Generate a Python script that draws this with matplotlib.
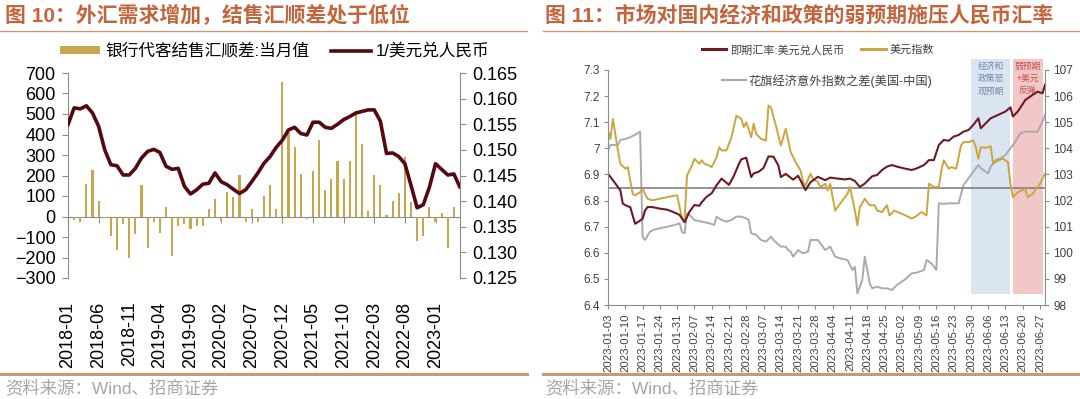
import matplotlib
matplotlib.use('Agg')
import matplotlib.pyplot as plt
import matplotlib.transforms as mtransforms
from matplotlib.patches import Patch, Rectangle
from matplotlib.lines import Line2D
import numpy as np
import pandas as pd

plt.rcParams['font.family'] = ['Liberation Sans', 'Noto Sans CJK SC', 'DejaVu Sans']

# ---------------- left panel data (monthly 2018-01 .. 2023-05) ----------------
months = pd.period_range('2018-01', '2023-05', freq='M').strftime('%Y-%m').tolist()
fx_balance = [0, -15, -28, 160, 227, 77, -5, -94, -161, -36,
              -200, -83, 155, -153, -25, -80, 47, -192, -44, -36,
              -60, -44, -48, 37, 84, -20, 120, 97, 203, -28,
              35, -25, 100, 155, 37, 655, 409, 339, 206, -10,
              222, 373, 131, 183, 269, 183, 273, 516, 352, 27,
              202, 152, 5, 77, 116, 288, 69, -119, -95, 47,
              -25, 16, -156, 47, np.nan]
inv_usdcny = [0.1549, 0.1582, 0.1580, 0.1586, 0.1572, 0.1546, 0.1500, 0.1471, 0.1469, 0.1451,
              0.1451, 0.1464, 0.1484, 0.1497, 0.1501, 0.1495, 0.1468, 0.1462, 0.1464, 0.1429,
              0.1414, 0.1422, 0.1433, 0.1435, 0.1455, 0.1438, 0.1432, 0.1423, 0.1415, 0.1422,
              0.1438, 0.1455, 0.1474, 0.1487, 0.1505, 0.1519, 0.1539, 0.1544, 0.1532, 0.1529,
              0.1554, 0.1554, 0.1544, 0.1542, 0.1550, 0.1559, 0.1565, 0.1572, 0.1575, 0.1578,
              0.1578, 0.1556, 0.1493, 0.1494, 0.1487, 0.1473, 0.1431, 0.1387, 0.1393, 0.1427,
              0.1473, 0.1462, 0.1451, 0.1453, 0.1427]
left_label_step = 5

# ---------------- right panel data (daily 2023) ----------------
cny_dates = ['01-03', '01-04', '01-06', '01-08', '01-09', '01-11', '01-12', '01-14', '01-15', '01-17',
             '01-18', '01-19', '01-21', '01-24', '01-27', '01-29', '02-01', '02-03', '02-04', '02-05',
             '02-07', '02-09', '02-10', '02-12', '02-14', '02-16', '02-18', '02-20', '02-21', '02-23',
             '02-25', '02-26', '02-28', '03-02', '03-03', '03-05', '03-07', '03-09', '03-11', '03-13',
             '03-14', '03-16', '03-19', '03-21', '03-24', '03-26', '03-29', '04-01', '04-03', '04-06',
             '04-09', '04-11', '04-13', '04-15', '04-17', '04-19', '04-20', '04-22', '04-24', '04-26',
             '04-28', '04-30', '05-03', '05-06', '05-08', '05-11', '05-13', '05-15', '05-17', '05-19',
             '05-21', '05-23', '05-25', '05-27', '05-29', '05-31', '06-02', '06-03', '06-05', '06-07',
             '06-10', '06-13', '06-15', '06-16', '06-18', '06-21', '06-24', '06-26', '06-28', '06-29']
cny_vals = [6.903, 6.890, 6.865, 6.839, 6.788, 6.778, 6.775, 6.711, 6.717, 6.730,
            6.762, 6.775, 6.775, 6.769, 6.765, 6.758, 6.745, 6.717, 6.737, 6.757,
            6.783, 6.780, 6.794, 6.815, 6.828, 6.859, 6.884, 6.868, 6.860, 6.895,
            6.940, 6.958, 6.964, 6.890, 6.904, 6.910, 6.925, 6.969, 6.968, 6.935,
            6.890, 6.902, 6.880, 6.895, 6.840, 6.870, 6.891, 6.878, 6.888, 6.884,
            6.881, 6.884, 6.875, 6.852, 6.865, 6.884, 6.893, 6.898, 6.917, 6.930,
            6.936, 6.930, 6.923, 6.917, 6.923, 6.936, 6.955, 6.955, 7.013, 7.032,
            7.029, 7.045, 7.051, 7.064, 7.070, 7.090, 7.115, 7.077, 7.096, 7.115,
            7.128, 7.141, 7.157, 7.122, 7.141, 7.185, 7.205, 7.217, 7.211, 7.243]

dxy_dates = ['01-03', '01-04', '01-05', '01-07', '01-08', '01-10', '01-11', '01-13', '01-14', '01-16',
             '01-17', '01-19', '01-21', '01-24', '01-27', '01-29', '01-31', '02-02', '02-03', '02-04',
             '02-06', '02-07', '02-09', '02-10', '02-11', '02-13', '02-14', '02-16', '02-17', '02-18',
             '02-20', '02-22', '02-24', '02-26', '02-27', '02-28', '03-02', '03-03', '03-04', '03-06',
             '03-08', '03-09', '03-10', '03-12', '03-14', '03-16', '03-17', '03-18', '03-20', '03-22',
             '03-23', '03-24', '03-26', '03-27', '03-29', '03-30', '04-01', '04-02', '04-03', '04-04',
             '04-05', '04-07', '04-10', '04-11', '04-13', '04-14', '04-15', '04-17', '04-19', '04-21',
             '04-22', '04-24', '04-26', '04-27', '04-29', '05-01', '05-04', '05-06', '05-08', '05-10',
             '05-12', '05-13', '05-15', '05-17', '05-18', '05-19', '05-21', '05-22', '05-24', '05-26',
             '05-27', '05-29', '05-31', '06-01', '06-02', '06-03', '06-05', '06-07', '06-08', '06-10',
             '06-12', '06-14', '06-15', '06-16', '06-18', '06-21', '06-22', '06-24', '06-26', '06-27',
             '06-29']
dxy_vals = [104.68, 104.36, 105.13, 103.92, 103.41, 103.22, 103.28, 102.26, 102.20, 102.32,
            102.45, 102.07, 102.01, 102.07, 102.13, 102.17, 102.20, 101.31, 101.24, 102.96,
            103.34, 103.60, 103.41, 103.54, 103.41, 103.34, 103.28, 103.66, 104.04, 103.92,
            103.92, 104.43, 105.25, 105.13, 104.81, 105.00, 104.43, 104.94, 104.55, 104.36,
            104.30, 105.64, 105.57, 104.87, 104.11, 104.75, 104.30, 103.85, 103.47, 103.15,
            102.71, 102.58, 103.03, 102.83, 102.71, 102.52, 102.64, 102.39, 102.64, 102.13,
            101.62, 101.88, 102.26, 102.52, 101.62, 101.05, 101.75, 102.07, 101.82, 101.82,
            101.62, 101.56, 101.82, 101.43, 101.62, 101.53, 101.41, 101.31, 101.41, 101.56,
            101.43, 102.64, 102.52, 102.52, 103.15, 103.54, 103.22, 103.28, 103.22, 104.11,
            104.24, 104.24, 104.30, 104.04, 103.60, 104.04, 104.02, 104.08, 103.41, 103.54,
            103.60, 103.47, 102.64, 102.13, 102.32, 102.45, 102.13, 102.26, 102.52, 102.64,
            103.03]

citi_dates = ['01-03', '01-04', '01-07', '01-08', '01-11', '01-13', '01-15', '01-16', '01-17', '01-18',
              '01-20', '01-22', '01-24', '01-27', '01-30', '02-01', '02-02', '02-03', '02-04', '02-05',
              '02-07', '02-10', '02-13', '02-15', '02-16', '02-18', '02-20', '02-22', '02-24', '02-26',
              '02-28', '03-01', '03-02', '03-04', '03-06', '03-08', '03-10', '03-11', '03-14', '03-16',
              '03-17', '03-18', '03-19', '03-21', '03-23', '03-25', '03-26', '03-29', '04-01', '04-03',
              '04-05', '04-07', '04-10', '04-12', '04-13', '04-14', '04-16', '04-17', '04-19', '04-20',
              '04-22', '04-24', '04-26', '04-28', '04-30', '05-03', '05-06', '05-08', '05-11', '05-12',
              '05-14', '05-16', '05-17', '05-19', '05-21', '05-23', '05-25', '05-27', '05-29', '05-31',
              '06-02', '06-03', '06-06', '06-07', '06-09', '06-11', '06-13', '06-15', '06-17', '06-19',
              '06-21', '06-24', '06-26', '06-28', '06-29']
citi_vals = [47.9, 54.3, 54.3, 60.6, 62.8, 65.7, 69.2, 71.3, -62.8, -67.0,
             -56.4, -53.4, -52.1, -50.0, -47.9, -45.7, -57.0, -58.5, -32.9, -35.0,
             -41.5, -43.6, -45.7, -47.9, -37.2, -41.5, -43.6, -41.5, -37.2, -37.2,
             -39.4, -41.5, -58.5, -60.6, -67.0, -69.1, -62.8, -67.0, -75.5, -75.5,
             -79.8, -81.9, -88.3, -79.8, -84.0, -81.9, -67.0, -67.0, -79.8, -75.5,
             -88.3, -90.4, -92.6, -105.3, -101.1, -135.1, -118.1, -88.3, -122.3, -128.7,
             -126.6, -128.7, -128.7, -130.9, -124.5, -118.1, -109.6, -108.7, -105.3, -92.6,
             -96.8, -105.3, -20.2, -20.9, -20.2, -20.2, -20.2, 3.2, 11.7, 20.2,
             28.7, 24.5, 18.1, 26.6, 35.1, 37.3, 41.5, 50.0, 58.5, 69.2,
             71.3, 71.3, 71.3, 84.0, 92.6]

blue_span = ('2023-05-30', '2023-06-15')
red_span = ('2023-06-16', '2023-06-28')
blue_text = '经济和\n政策悲\n观预期'
red_text = '弱预期\n+美元\n反弹'

# ---------------- styles ----------------
W, H = 1080, 399
def fx(px): return px / W
def fy(py): return 1 - py / H

GOLD_BAR = '#C8A64B'
MAROON = '#55090F'
MAROON_R = '#6E1A22'
GOLD_R = '#CBA63E'
GRAY_R = '#AAAAAA'
AXIS_GRAY = '#8C8C8C'
TITLE_C = '#C4643C'
RULE_C = '#C49A78'

fig = plt.figure(figsize=(W / 100, H / 100), dpi=100)
fig.patch.set_facecolor('white')

# titles and rules
fig.text(fx(5), fy(15), '图 10：外汇需求增加，结售汇顺差处于低位', fontsize=15, color=TITLE_C,
         fontweight='bold', va='center', ha='left')
fig.text(fx(545), fy(15), '图 11：市场对国内经济和政策的弱预期施压人民币汇率', fontsize=15, color=TITLE_C,
         fontweight='bold', va='center', ha='left')
for x0, x1 in [(0, 527), (543, 1080)]:
    fig.add_artist(Line2D([fx(x0), fx(x1)], [fy(31), fy(31)], transform=fig.transFigure,
                          color=RULE_C, lw=1.0))
    fig.add_artist(Line2D([fx(x0), fx(x1)], [fy(374), fy(374)], transform=fig.transFigure,
                          color=RULE_C, lw=2.2))
fig.text(fx(5), fy(388), '资料来源：Wind、招商证券', fontsize=12.5, color='#A6A6A6', va='center', ha='left')
fig.text(fx(545), fy(388), '资料来源：Wind、招商证券', fontsize=12.5, color='#A6A6A6', va='center', ha='left')

# ---------------- left panel ----------------
axL = fig.add_axes([fx(68), fy(278), fx(460) - fx(68), fy(73) - fy(278)])
axL.patch.set_visible(False)
xi = np.arange(len(months))
axL.bar(xi, fx_balance, width=0.35, color=GOLD_BAR, zorder=2)
axL.set_xlim(0, len(months) - 1)
axL.set_ylim(-300, 700)
axL.set_yticks(np.arange(-300, 701, 100))
tick_idx = list(range(0, len(months), left_label_step))
axL.set_xticks(tick_idx)
axL.set_xticklabels([months[i] for i in tick_idx], rotation=90, fontsize=13)
axL.tick_params(axis='x', length=0, pad=17)
axL.tick_params(axis='y', labelsize=13, length=4, color=AXIS_GRAY, pad=5)
for s in ['top', 'bottom', 'right']:
    axL.spines[s].set_visible(False)
axL.spines['left'].set_color(AXIS_GRAY)
sec = axL.secondary_xaxis(0.3)
sec.set_xticks(tick_idx)
sec.tick_params(axis='x', length=4, color=AXIS_GRAY, labelbottom=False)
sec.spines['bottom'].set_color(AXIS_GRAY)

axL2 = axL.twinx()
axL2.plot(xi, inv_usdcny, color=MAROON, lw=2.6, solid_capstyle='round', zorder=3)
axL2.set_ylim(0.125, 0.165)
axL2.set_yticks(np.arange(0.125, 0.16501, 0.005))
axL2.set_yticklabels(['%.3f' % v for v in np.arange(0.125, 0.16501, 0.005)])
axL2.tick_params(axis='y', labelsize=13, length=4, color=AXIS_GRAY, pad=5)
for s in ['top', 'bottom', 'left']:
    axL2.spines[s].set_visible(False)
axL2.spines['right'].set_color(AXIS_GRAY)

fig.legend(handles=[Patch(facecolor=GOLD_BAR, edgecolor='none', label='银行代客结售汇顺差:当月值'),
                    Line2D([], [], color=MAROON, lw=2.6, label='1/美元兑人民币')],
           loc='center', bbox_to_anchor=(fx(275), fy(51)), ncol=2, frameon=False, fontsize=12,
           handlelength=2.4, handleheight=0.45, handletextpad=0.3, columnspacing=1.3,
           borderpad=0, borderaxespad=0)

# ---------------- right panel ----------------
cny_x = pd.to_datetime(['2023-' + d for d in cny_dates])
dxy_x = pd.to_datetime(['2023-' + d for d in dxy_dates])
citi_x = pd.to_datetime(['2023-' + d for d in citi_dates])

rect = [fx(608), fy(305), fx(1045) - fx(608), fy(70) - fy(305)]
axC = fig.add_axes(rect)            # citi diff (hidden axis), lowest
axR = axC.twinx()                   # DXY right axis
axM = axC.twinx()                   # USD/CNY left axis
for a, z in [(axC, 1), (axR, 2), (axM, 3)]:
    a.set_zorder(z)
    a.patch.set_visible(False)

xlim = (pd.Timestamp('2023-01-03'), pd.Timestamp('2023-06-29'))

# shaded windows
trans = mtransforms.blended_transform_factory(axC.transData, axC.transAxes)
for (a, b), fc, txt, tc in [(blue_span, '#DAE5F1', blue_text, '#7089AA'),
                            (red_span, '#F2C7C7', red_text, '#C8504A')]:
    x0 = matplotlib.dates.date2num(pd.Timestamp(a))
    x1 = matplotlib.dates.date2num(pd.Timestamp(b))
    axC.add_patch(Rectangle((x0, 0.047), x1 - x0, 1.047 - 0.047, transform=trans,
                            facecolor=fc, edgecolor='none', clip_on=False, zorder=0))
    axC.text((x0 + x1) / 2, 0.963, txt, transform=trans, ha='center', va='center',
             fontsize=6.3, color=tc, linespacing=1.45, clip_on=False)

axC.plot(citi_x, citi_vals, color=GRAY_R, lw=1.4, zorder=2)
axC.axhline(0, color='#808080', lw=1.2, zorder=3)
axC.set_ylim(-150, 150)
axC.set_xlim(*xlim)
axC.axis('off')

axR.plot(dxy_x, dxy_vals, color=GOLD_R, lw=1.4)
axR.set_ylim(98, 107)
axR.set_yticks(np.arange(98, 107.1, 1))
axR.tick_params(axis='y', labelsize=8.5, length=3, color=AXIS_GRAY, labelcolor='#404040', pad=3,
                left=False, labelleft=False, right=True, labelright=True)
axR.set_xlim(*xlim)

axM.plot(cny_x, cny_vals, color=MAROON_R, lw=1.5)
axM.set_ylim(6.4, 7.3)
yt = np.round(np.arange(6.4, 7.301, 0.1), 1)
axM.set_yticks(yt)
axM.set_yticklabels(['%g' % v for v in yt])
axM.yaxis.set_ticks_position('left')
axM.yaxis.set_label_position('left')
axM.tick_params(axis='y', labelsize=8.5, length=3, color=AXIS_GRAY, labelcolor='#404040', pad=3,
                left=True, labelleft=True, right=False, labelright=False)
axM.xaxis.set_visible(True)
xt = pd.date_range('2023-01-03', '2023-06-27', freq='7D')
axM.set_xticks(xt)
axM.set_xticklabels([d.strftime('%Y-%m-%d') for d in xt], rotation=90, fontsize=8.2, color='#404040')
axM.tick_params(axis='x', bottom=True, labelbottom=True, top=False, labeltop=False,
                length=3, color=AXIS_GRAY, pad=3)
axM.set_xlim(*xlim)

for a in (axR, axM):
    for s in a.spines.values():
        s.set_visible(False)
axM.spines['left'].set_visible(True)
axM.spines['left'].set_color(AXIS_GRAY)
axM.spines['bottom'].set_visible(True)
axM.spines['bottom'].set_color(AXIS_GRAY)
axR.spines['right'].set_visible(True)
axR.spines['right'].set_color(AXIS_GRAY)
axR.tick_params(axis='x', bottom=False, labelbottom=False)

fig.legend(handles=[Line2D([], [], color=MAROON_R, lw=2.2, label='即期汇率:美元兑人民币'),
                    Line2D([], [], color=GOLD_R, lw=2.2, label='美元指数')],
           loc='center', bbox_to_anchor=(fx(818), fy(50)), ncol=2, frameon=False, fontsize=8,
           handlelength=2.2, handletextpad=0.35, columnspacing=1.5, borderpad=0, borderaxespad=0,
           labelcolor='#404040')
axM.legend(handles=[Line2D([], [], color=GRAY_R, lw=1.6, label='花旗经济意外指数之差(美国-中国)')],
           loc='center left', bbox_to_anchor=(0.26, 0.954), frameon=False, fontsize=8.8,
           handlelength=2.0, handletextpad=0.2, borderpad=0, borderaxespad=0, labelcolor='#404040')

fig.savefig('out.png', dpi=100, facecolor='white')
